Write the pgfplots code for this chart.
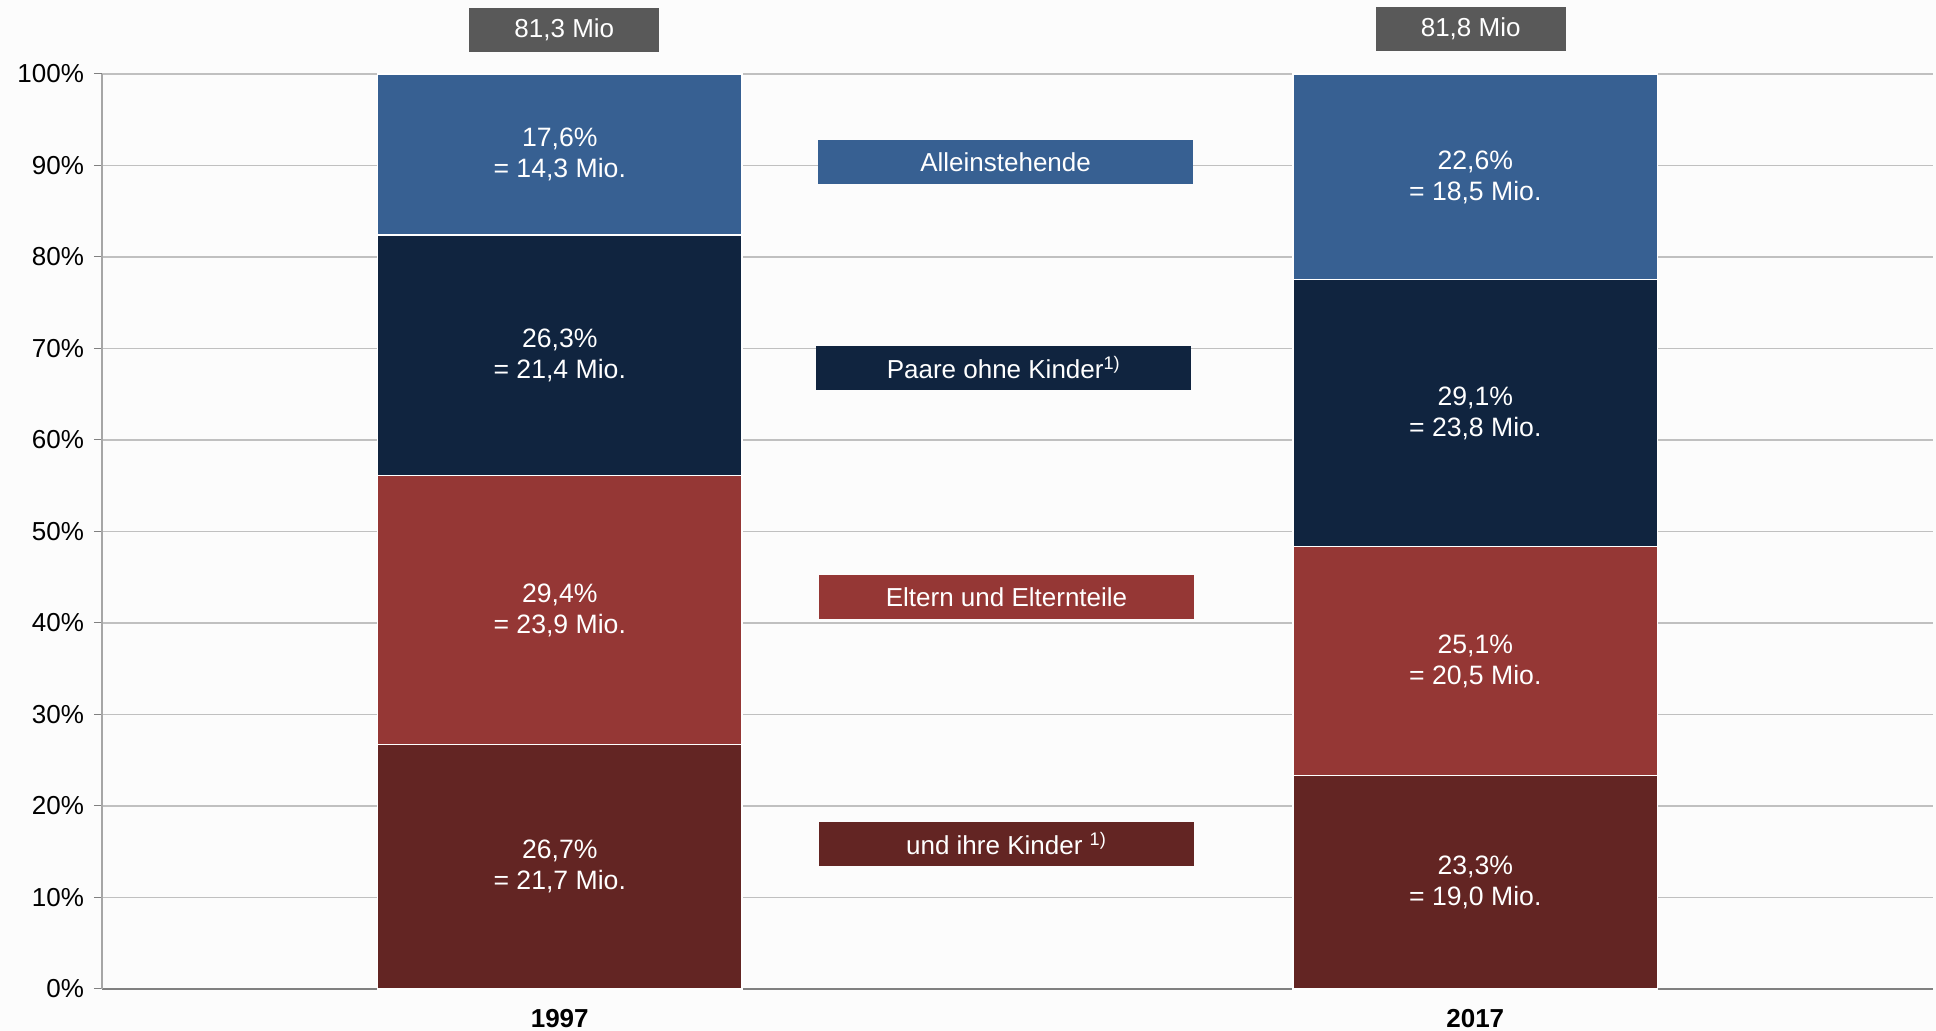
\documentclass[border=0pt]{standalone}
\usepackage{pgfplots}
\pgfplotsset{compat=1.18}
\usepackage{fontspec}
\setmainfont{Liberation Sans}
\definecolor{cAll}{HTML}{376092}
\definecolor{cPaar}{HTML}{10243F}
\definecolor{cElt}{HTML}{953735}
\definecolor{cKind}{HTML}{632523}
\definecolor{cBox}{HTML}{595959}
\definecolor{cGrid}{HTML}{C0C0C0}
\definecolor{cBg}{HTML}{FCFCFC}
\tikzset{
  vlab/.style={text=white, align=center, font=\fontsize{13.3}{15.5}\selectfont},
  tbox/.style={fill=cBox, text=white, minimum width=95pt, minimum height=22pt, inner sep=0pt, font=\fontsize{13}{15}\selectfont},
  lbox/.style={text=white, minimum width=187.5pt, minimum height=22pt, inner sep=0pt, font=\fontsize{13}{15}\selectfont},
}
\begin{document}
\begin{tikzpicture}
\fill[cBg] (-51pt,-21pt) rectangle (917pt,494.5pt);
\useasboundingbox (-51pt,-21pt) rectangle (917pt,494.5pt);
\begin{axis}[
  at={(0pt,0pt)}, anchor=south west,
  scale only axis, width=915.5pt, height=457.5pt,
  ybar stacked, bar width=0.398,
  xmin=-0.5, xmax=1.5, ymin=0, ymax=100,
  xtick={0,1}, xticklabels={\textbf{1997},\textbf{2017}},
  extra x ticks={-0.5,0.5,1.5}, extra x tick labels={},
  extra x tick style={tick style={draw=gray, line width=0.6pt}, major tick length=5pt},
  xtick style={draw=none},
  ytick={0,10,...,100},
  yticklabels={0\%,10\%,20\%,30\%,40\%,50\%,60\%,70\%,80\%,90\%,100\%},
  ymajorgrids, grid style={draw=cGrid, line width=0.7pt},
  axis x line*=bottom, axis y line*=left,
  x axis line style={draw=gray, line width=1.2pt},
  y axis line style={draw=gray!70, line width=0.6pt},
  tick align=outside, major tick length=4pt,
  ytick style={draw=gray, line width=0.5pt},
  ticklabel style={font=\fontsize{13}{15}\selectfont},
  yticklabel style={xshift=-1.5pt},
  xticklabel style={yshift=-2.5pt},
  clip=false,
]
\addplot[fill=cKind, draw=white, line width=0.6pt] coordinates {(0,26.7) (1,23.3)};
\addplot[fill=cElt, draw=white, line width=0.6pt] coordinates {(0,29.4) (1,25.1)};
\addplot[fill=cPaar, draw=white, line width=0.6pt] coordinates {(0,26.3) (1,29.1)};
\addplot[fill=cAll, draw=white, line width=0.6pt] coordinates {(0,17.6) (1,22.5)};

\coordinate (a1) at (axis cs:0,13.35);
\coordinate (a2) at (axis cs:0,41.4);
\coordinate (a3) at (axis cs:0,69.25);
\coordinate (a4) at (axis cs:0,91.2);
\coordinate (b1) at (axis cs:1,11.65);
\coordinate (b2) at (axis cs:1,35.85);
\coordinate (b3) at (axis cs:1,62.95);
\coordinate (b4) at (axis cs:1,88.75);
\coordinate (t1) at (axis cs:0.005,104.8);
\coordinate (t2) at (axis cs:0.995,104.9);
\coordinate (l1) at (axis cs:0.487,90.4);
\coordinate (l2) at (axis cs:0.485,67.9);
\coordinate (l3) at (axis cs:0.488,42.8);
\coordinate (l4) at (axis cs:0.488,15.9);
\end{axis}

\node[vlab] at (a1) {26,7\%\\= 21,7 Mio.};
\node[vlab] at (a2) {29,4\%\\= 23,9 Mio.};
\node[vlab] at (a3) {26,3\%\\= 21,4 Mio.};
\node[vlab] at (a4) {17,6\%\\= 14,3 Mio.};
\node[vlab] at (b1) {23,3\%\\= 19,0 Mio.};
\node[vlab] at (b2) {25,1\%\\= 20,5 Mio.};
\node[vlab] at (b3) {29,1\%\\= 23,8 Mio.};
\node[vlab] at (b4) {22,6\%\\= 18,5 Mio.};

\node[tbox] at (t1) {81,3 Mio};
\node[tbox] at (t2) {81,8 Mio};

\node[lbox, fill=cAll] at (l1) {Alleinstehende};
\node[lbox, fill=cPaar] at (l2) {Paare ohne Kinder\textsuperscript{1)}};
\node[lbox, fill=cElt] at (l3) {Eltern und Elternteile};
\node[lbox, fill=cKind] at (l4) {und ihre Kinder \textsuperscript{1)}};
\end{tikzpicture}
\end{document}
